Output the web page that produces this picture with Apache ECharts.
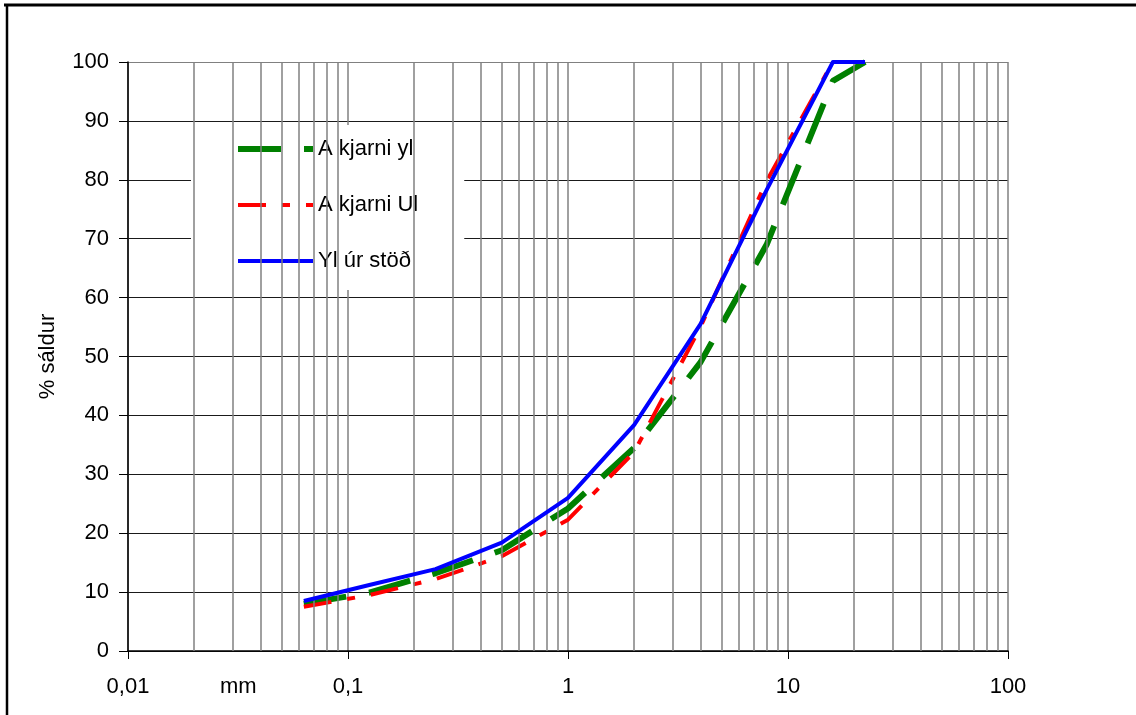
<!DOCTYPE html>
<html><head><meta charset="utf-8">
<script src="https://cdn.jsdelivr.net/npm/echarts@6/dist/echarts.min.js"></script>
<style>html,body{margin:0;padding:0;background:#fff}#c{width:1136px;height:715px}</style>
</head><body><div id="c"></div>
<script>
// Sieve sizes (mm) and % passing
const sieveSizes = [0.063, 0.125, 0.25, 0.5, 1, 2, 4, 8, 16, 22.4];
const akjarniYl  = [8.0, 9.9, 13.2, 17.1, 24.2, 34.5, 49.0, 69.0, 96.8, 100];
const akjarniUl  = [7.5, 9.5, 12.2, 16.1, 22.3, 33.8, 55.0, 79.8, 100, 100];
const ylUrStod   = [8.5, 11.2, 13.9, 18.4, 26.0, 38.4, 55.5, 78.3, 100, 100];
const seriesNames = ['A kjarni yl', 'A kjarni Ul', 'Yl úr stöð'];
const xTickValues = [0.01, 0.1, 1, 10, 100];
const minorGridValues = [
  0.02,0.03,0.04,0.05,0.06,0.07,0.08,0.09,
  0.2,0.3,0.4,0.5,0.6,0.7,0.8,0.9,
  2,3,4,5,6,7,8,9,
  20,30,40,50,60,70,80,90
];
const yMin = 0, yMax = 100, yStep = 10;

const FONT = '"Liberation Sans", Arial, sans-serif';
const FS = 22;
const pairs = arr => sieveSizes.map((x, i) => [x, arr[i]]);

const chart = echarts.init(document.getElementById('c'), null, {renderer: 'canvas'});
const hColors = [];
for (let v = yMin; v <= yMax; v += yStep) hColors.push(v === yMax ? '#808080' : '#1a1a1a');
const hidden = {color: 'rgba(0,0,0,0)', opacity: 0, borderWidth: 0};

chart.setOption({
  animation: false,
  backgroundColor: '#fff',
  grid: {left: 128, right: 128, top: 62, bottom: 64, containLabel: false},
  xAxis: {
    type: 'log', logBase: 10, min: 0.01, max: 100,
    axisLine: {show: true, onZero: false, lineStyle: {color: '#000', width: 1.5}},
    axisTick: {show: true, length: 8, lineStyle: {color: '#000', width: 1}},
    minorTick: {show: false},
    splitLine: {show: true, lineStyle: {color: '#808080', width: 1.5}},
    axisLabel: {
      fontFamily: FONT, fontSize: FS, color: '#000', margin: 25,
      formatter: v => String(Number(Number(v).toPrecision(6))).replace('.', ',')
    }
  },
  yAxis: {
    type: 'value', min: yMin, max: yMax, interval: yStep,
    name: '% sáldur', nameLocation: 'middle', nameGap: 69, nameRotate: 90,
    nameTextStyle: {fontFamily: FONT, fontSize: FS, color: '#000'},
    axisLine: {show: true, lineStyle: {color: '#000', width: 1.5}},
    axisTick: {show: true, length: 9, lineStyle: {color: '#000', width: 1}},
    splitLine: {show: true, lineStyle: {color: hColors, width: 1}},
    axisLabel: {fontFamily: FONT, fontSize: FS, color: '#000', margin: 19}
  },
  legend: {
    orient: 'vertical', left: 191, top: 125,
    padding: [13, 46, 18, 44],
    backgroundColor: '#fff',
    itemWidth: 75, itemHeight: 20, itemGap: 34, itemTextGap: 5,
    textStyle: {fontFamily: FONT, fontSize: FS, color: '#000'},
    selectedMode: false,
    data: [
      {name: seriesNames[0], itemStyle: hidden, lineStyle: {width: 6, type: [43, 23]}},
      {name: seriesNames[1], itemStyle: hidden, lineStyle: {width: 4, type: [28, 16, 8, 16]}},
      {name: seriesNames[2], itemStyle: hidden, lineStyle: {width: 4, type: 'solid'}}
    ]
  },
  graphic: [
    {type: 'line', silent: true, z: 100, shape: {x1: 4, y1: 5, x2: 1136, y2: 5}, style: {stroke: '#000', lineWidth: 3}},
    {type: 'line', silent: true, z: 100, shape: {x1: 7, y1: 4, x2: 7, y2: 715}, style: {stroke: '#000', lineWidth: 2.5}},
    {type: 'text', silent: true, left: 220, top: 676, style: {text: 'mm', font: FS + 'px ' + FONT, fill: '#000'}}
  ],
  series: [
    {
      name: 'minor', type: 'line', data: [], z: 1, silent: true,
      markLine: {
        silent: true, symbol: ['none', 'none'], label: {show: false},
        lineStyle: {color: '#808080', width: 1.5, type: 'solid'},
        emphasis: {disabled: true},
        data: minorGridValues.map(v => ({xAxis: v}))
      }
    },
    {
      name: seriesNames[0], type: 'line', data: pairs(akjarniYl), symbol: 'none', z: 3,
      lineStyle: {color: '#008000', width: 6, type: [43, 23], cap: 'butt'},
      itemStyle: {color: '#008000'}
    },
    {
      name: seriesNames[1], type: 'line', data: pairs(akjarniUl), symbol: 'none', z: 4,
      lineStyle: {color: '#ff0000', width: 4, type: [28, 16, 8, 16], cap: 'butt'},
      itemStyle: {color: '#ff0000'}
    },
    {
      name: seriesNames[2], type: 'line', data: pairs(ylUrStod), symbol: 'none', z: 5,
      lineStyle: {color: '#0000ff', width: 4, type: 'solid', join: 'round'},
      itemStyle: {color: '#0000ff'}
    }
  ]
});
</script>
</body></html>
